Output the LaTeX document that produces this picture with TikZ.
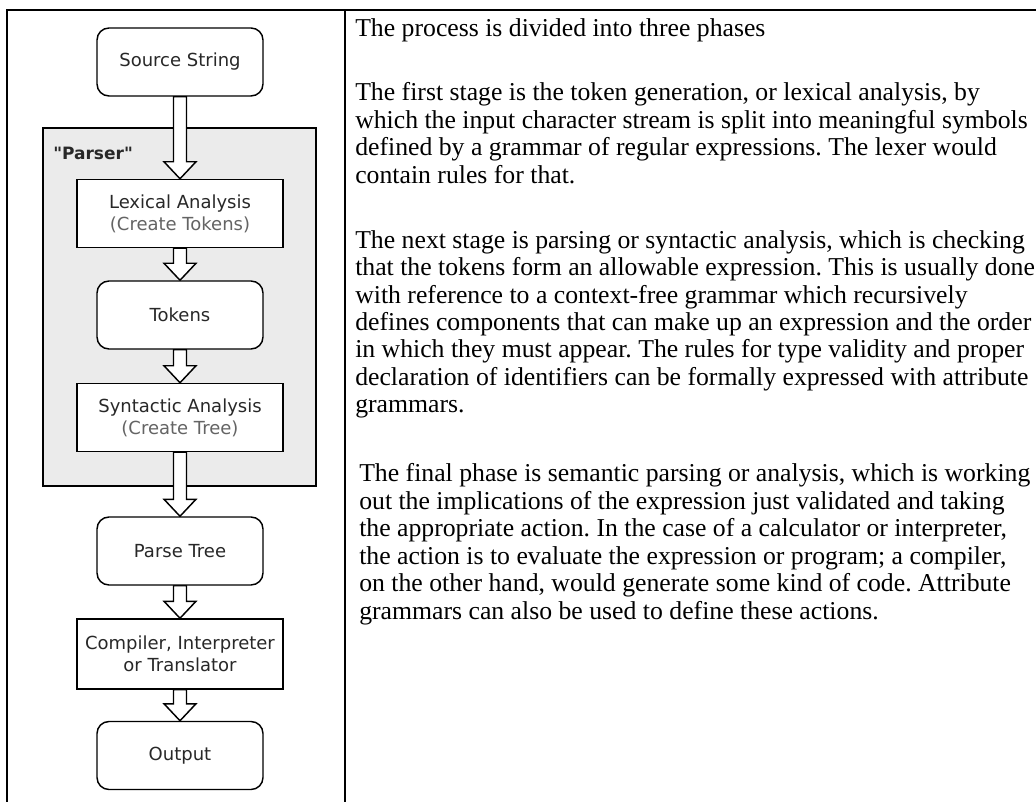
\documentclass[tikz,border=0pt]{standalone}
\usepackage{fontspec}
\setmainfont{Liberation Serif}
\newfontfamily\diagfont{DejaVu Sans}
\definecolor{parsergray}{RGB}{235,235,235}
\definecolor{labelgray}{RGB}{40,40,40}
\definecolor{notegray}{RGB}{100,100,100}
\usetikzlibrary{calc,backgrounds}
\frenchspacing

\begin{document}
\begin{tikzpicture}[x=0.75pt, y=-0.75pt,
    box/.style={rectangle, draw=black, line width=1.1pt, fill=white, minimum width=154.5pt, minimum height=51pt, inner sep=0pt, align=center, text=labelgray, font={\diagfont\fontsize{13.5}{16.5}\selectfont}},
    data/.style={box, rounded corners=9pt, minimum width=124.5pt},
    blockarrow/.style={draw=black, line width=1.1pt, fill=white},
    frame/.style={line width=1.5pt}
]
    \useasboundingbox (0,0) rectangle (1036,802);

    % page frame
    \draw[frame] (7,802) -- (7,10) -- (1036,10);
    \draw[frame] (345,10) -- (345,802);

    \node[data] (src) at (180,62) {Source String};
    \node[box] (lex) at (180,213.5) {Lexical Analysis\\\textcolor{notegray}{(Create Tokens)}};
    \node[data] (tok) at (180,315) {Tokens};
    \node[box] (syn) at (180,417.5) {Syntactic Analysis\\\textcolor{notegray}{(Create Tree)}};
    \node[data] (tree) at (180,551) {Parse Tree};
    \node[box, minimum height=52.5pt] (comp) at (180,654) {Compiler, Interpreter\\or Translator};
    \node[data] (out) at (180,755.5) {Output};

    \begin{scope}[on background layer]
        \node[draw=black, line width=1.1pt, fill=parsergray, minimum width=204.75pt, minimum height=268.5pt] (parser) at (179.5,307) {};
        \foreach \from/\to in {src/lex,lex/tok,tok/syn,syn/tree,tree/comp,comp/out}
            \draw[blockarrow] ($(\from.south)+(-6.5,0)$) -- ($(\to.north)+(-6.5,-17)$) -- ($(\to.north)+(-16,-17)$) -- (\to.north) -- ($(\to.north)+(16,-17)$) -- ($(\to.north)+(6.5,-17)$) -- ($(\from.south)+(6.5,0)$) -- cycle;
    \end{scope}
    \node[anchor=west, inner sep=0pt, text=labelgray, font={\diagfont\bfseries\fontsize{12.75}{15}\selectfont}] (parserlabel) at (53,153) {"Parser"};

    \node[anchor=north west, inner sep=0pt, align=left, font={\fontsize{19.3}{20.6}\selectfont}] (desc) at (355,18) {%
        The process is divided into three phases\\[28pt]
        The first stage is the token generation, or lexical analysis, by\\
        which the input character stream is split into meaningful symbols\\
        defined by a grammar of regular expressions. The lexer would\\
        contain rules for that.\\[28pt]
        The next stage is parsing or syntactic analysis, which is checking\\
        that the tokens form an allowable expression. This is usually done\\
        with reference to a context-free grammar which recursively\\
        defines components that can make up an expression and the order\\
        in which they must appear. The rules for type validity and proper\\
        declaration of identifiers can be formally expressed with attribute\\
        grammars.\\[31pt]
        \hspace*{3pt}The final phase is semantic parsing or analysis, which is working\\
        \hspace*{3pt}out the implications of the expression just validated and taking\\
        \hspace*{3pt}the appropriate action. In the case of a calculator or interpreter,\\
        \hspace*{3pt}the action is to evaluate the expression or program; a compiler,\\
        \hspace*{3pt}on the other hand, would generate some kind of code. Attribute\\
        \hspace*{3pt}grammars can also be used to define these actions.};
\end{tikzpicture}
\end{document}
